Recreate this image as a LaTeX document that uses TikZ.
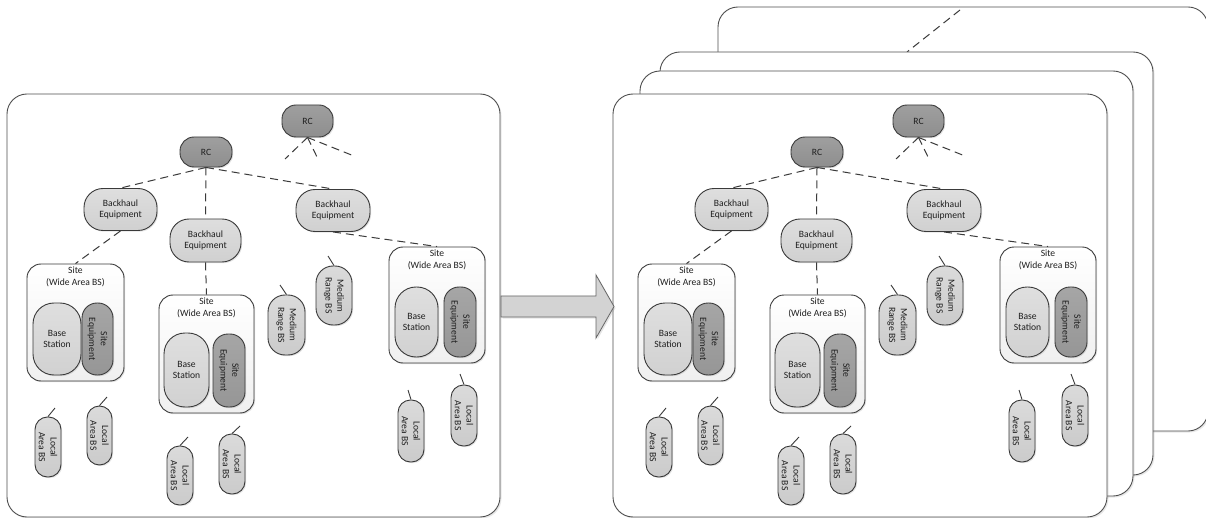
\documentclass[tikz,border=0pt]{standalone}
\usepackage{fontspec}
\setmainfont{Carlito}
\usetikzlibrary{shadows}
\definecolor{edge}{HTML}{3A3A3A}
\definecolor{rcfill}{HTML}{8E8E8E}
\definecolor{bhfill}{HTML}{D0D0D0}
\definecolor{bsfill}{HTML}{D1D1D1}
\definecolor{sefill}{HTML}{969696}
\definecolor{lafill}{HTML}{CBCBCB}
\definecolor{arrowfill}{HTML}{D3D3D3}
\begin{document}
\begin{tikzpicture}[x=1pt,y=-1pt,
  shad/.style={drop shadow={shadow xshift=1.2pt,shadow yshift=-1.2pt,opacity=0.22}},
  base/.style={draw=edge,line width=0.9pt,align=center,inner sep=0pt,
    font=\fontsize{9.6}{11.8}\selectfont,text=black!88,shad},
  rcnode/.style={base,top color=rcfill!85!white,bottom color=rcfill,
    minimum width=52pt,minimum height=30pt,rounded corners=14pt},
  bhnode/.style={base,top color=bhfill!70!white,bottom color=bhfill,
    minimum width=73pt,minimum height=42pt,rounded corners=19pt},
  sitebox/.style={base,top color=white,bottom color=black!6,
    minimum width=96pt,minimum height=117pt,rounded corners=14pt},
  sitelab/.style={anchor=north,yshift=-3pt,inner sep=0pt,align=center,
    font=\fontsize{9.6}{11.8}\selectfont,text=black!88},
  bsnode/.style={base,top color=bsfill!70!white,bottom color=bsfill,
    minimum width=46pt,minimum height=72pt,rounded corners=21pt},
  senode/.style={base,rotate=-90,top color=sefill!85!white,bottom color=sefill,
    minimum width=72pt,minimum height=31pt,rounded corners=15pt},
  lanode/.style={base,rotate=-90,top color=lafill!70!white,bottom color=lafill,
    minimum width=60pt,minimum height=26pt,rounded corners=12.5pt},
  mednode/.style={base,rotate=-90,top color=lafill!70!white,bottom color=lafill,
    minimum width=60pt,minimum height=36pt,rounded corners=17pt},
  dashline/.style={draw=edge,line width=1pt,dash pattern=on 8pt off 5pt},
  stub/.style={draw=edge,line width=0.9pt},
  frame/.style={draw=edge!90,fill=white,line width=0.9pt,rounded corners=20pt,
    drop shadow={shadow xshift=1.5pt,shadow yshift=-1.5pt,opacity=0.18}},
  bigarrow/.style={draw=black!60,fill=arrowfill,line width=0.8pt,line join=miter,
    drop shadow={shadow xshift=1.5pt,shadow yshift=-1.5pt,opacity=0.2}}
]
\useasboundingbox (0,0) rectangle (1206,518);
\fill[white] (0,0) rectangle (1206,518);

% stacked frames on the right
\draw[frame] (718,7) rectangle (1208,431);
\coordinate (d1) at (960,10);
\coordinate (d2) at (907,52);
\draw[dashline] (d1) -- (d2);
\draw[frame] (660,52) rectangle (1153,475);
\draw[frame] (640,71) rectangle (1133,496);
\draw[frame] (613,94) rectangle (1107,517);
% left frame
\draw[frame] (7,94) rectangle (500,517);

% block arrow
\draw[bigarrow] (501,296) -- (596,296) -- (596,275) -- (614,306.5) -- (596,338) -- (596,317) -- (501,317) -- cycle;

\foreach \p/\dx in {L/0,R/611}{
\begin{scope}[xshift=\dx pt]
  % site boxes
  \node[sitebox,minimum width=97pt,minimum height=117pt] (\p-site1) at (75.5,322.5) {};
  \node[sitelab] at (\p-site1.north) {Site\\(Wide Area BS)};
  \node[sitebox,minimum width=95pt,minimum height=118pt] (\p-site2) at (206.5,354) {};
  \node[sitelab] at (\p-site2.north) {Site\\(Wide Area BS)};
  \node[sitebox,minimum width=96pt,minimum height=116pt] (\p-site3) at (437,305) {};
  \node[sitelab] at (\p-site3.north) {Site\\(Wide Area BS)};

  \node[bsnode,minimum width=48pt] (\p-bs1) at (57,339) {Base\\Station};
  \node[senode] (\p-se1) at (97.5,339) {Site\\Equipment};
  \node[bsnode,minimum width=45pt,minimum height=74pt] (\p-bs2) at (186.5,370) {Base\\Station};
  \node[senode,minimum width=73pt,minimum height=32pt] (\p-se2) at (229,370.5) {Site\\Equipment};
  \node[bsnode,minimum width=43pt,minimum height=70pt] (\p-bs3) at (416.5,322) {Base\\Station};
  \node[senode,minimum width=70pt,minimum height=32pt] (\p-se3) at (460,322) {Site\\Equipment};

  % RC and backhaul
  \node[rcnode] (\p-rc) at (206,152) {RC};
  \node[rcnode,minimum width=51pt,minimum height=32pt] (\p-rc2) at (307.5,121) {RC};
  \node[bhnode] (\p-bh1) at (120.5,209.5) {Backhaul\\Equipment};
  \node[bhnode,minimum width=71pt,minimum height=43pt] (\p-bh2) at (205.5,240.5) {Backhaul\\Equipment};
  \node[bhnode,minimum width=74pt] (\p-bh3) at (333,210.5) {Backhaul\\Equipment};

  \draw[dashline] (\p-rc.south) -- (\p-bh1.north);
  \draw[dashline] (\p-rc.south) -- (\p-bh2.north);
  \draw[dashline] (\p-rc.south) -- (\p-bh3.north);
  \draw[dashline] (\p-bh1.south) -- (\p-site1.north);
  \draw[dashline] (\p-bh2.south) -- (\p-site2.north);
  \draw[dashline] (\p-bh3.south) -- (\p-site3.north);

  \coordinate (\p-r1) at (285,159);
  \coordinate (\p-r2) at (318,159);
  \coordinate (\p-r3) at (354,156);
  \draw[dashline] (\p-rc2.south) -- (\p-r1);
  \draw[dashline] (\p-rc2.south) -- (\p-r2);
  \draw[dashline] (\p-rc2.south) -- (\p-r3);

  % medium range BS
  \node[mednode,minimum height=37pt] (\p-med1) at (286.5,325) {Medium\\Range BS};
  \node[mednode,minimum width=59pt] (\p-med2) at (334,295.5) {Medium\\Range BS};
  \coordinate (\p-m1s) at (280,285);
  \coordinate (\p-m2s) at (328,256);
  \draw[stub] (\p-m1s) -- (\p-med1.west);
  \draw[stub] (\p-m2s) -- (\p-med2.west);

  % local area BS
  \node[lanode] (\p-la1) at (48,447) {Local\\Area BS};
  \node[lanode,minimum width=59pt,minimum height=25pt] (\p-la2) at (99.5,435.5) {Local\\Area BS};
  \node[lanode,minimum width=59pt] (\p-la3) at (180,475.5) {Local\\Area BS};
  \node[lanode] (\p-la4) at (232,464) {Local\\Area BS};
  \node[lanode,minimum width=62pt] (\p-la5) at (411,431) {Local\\Area BS};
  \node[lanode,minimum width=61pt] (\p-la6) at (464,415.5) {Local\\Area BS};
  \coordinate (\p-s1) at (55,408);
  \coordinate (\p-s2) at (107,397);
  \coordinate (\p-s3) at (188,437);
  \coordinate (\p-s4) at (240,426);
  \coordinate (\p-s5) at (408,390);
  \coordinate (\p-s6) at (460,374);
  \draw[stub] (\p-s1) -- (\p-la1.west);
  \draw[stub] (\p-s2) -- (\p-la2.west);
  \draw[stub] (\p-s3) -- (\p-la3.west);
  \draw[stub] (\p-s4) -- (\p-la4.west);
  \draw[stub] (\p-s5) -- (\p-la5.west);
  \draw[stub] (\p-s6) -- (\p-la6.west);
\end{scope}}
\end{tikzpicture}
\end{document}
